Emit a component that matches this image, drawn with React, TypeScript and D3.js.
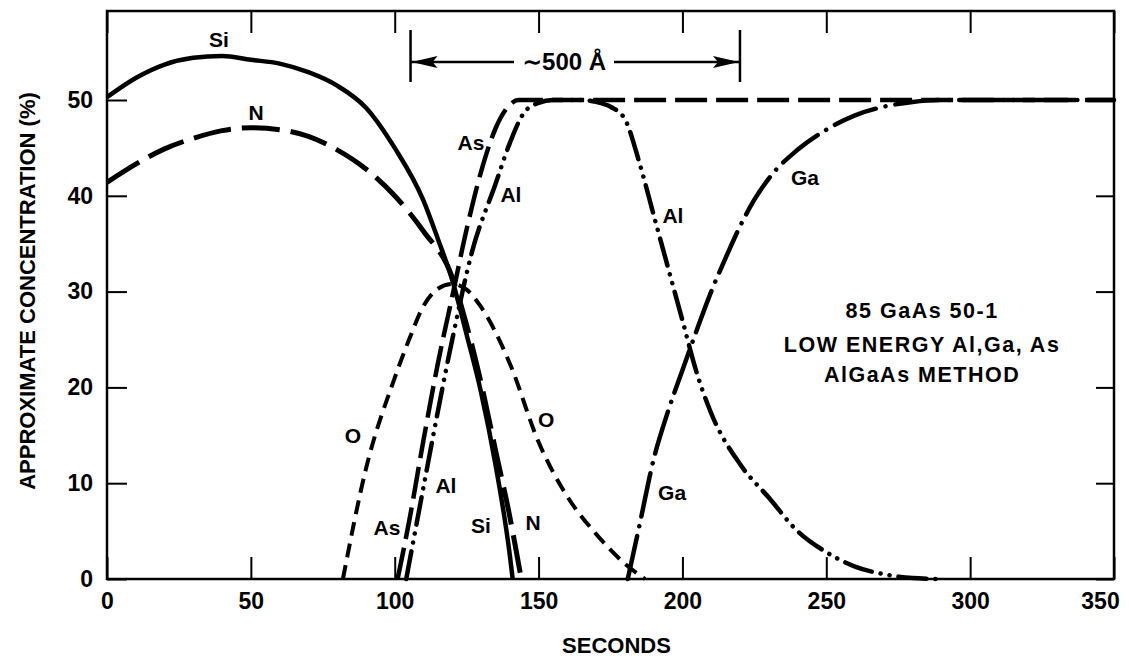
import React, { useEffect, useRef } from 'react';
import * as d3 from 'd3';

// axis ticks
const xTicks = [0, 50, 100, 150, 200, 250, 300, 350];
const yTicks = [0, 10, 20, 30, 40, 50];

// depth profile (seconds, %)
const siTime = [0, 10, 20, 30, 40, 50, 60, 70, 80, 90, 100, 110, 115, 120, 125, 130, 135, 140, 141];
const siConc = [50.3, 52.3, 53.7, 54.4, 54.6, 54.2, 53.8, 52.9, 51.5, 49.2, 45.0, 39.5, 35.5, 31.2, 25.5, 19.5, 12.0, 2.5, 0];

const nTime = [0, 10, 20, 30, 40, 50, 60, 70, 80, 90, 100, 110, 120, 125, 130, 135, 140, 144];
const nConc = [41.4, 43.3, 44.9, 46.0, 46.8, 47.1, 46.9, 46.2, 44.8, 42.8, 40.0, 36.3, 31.5, 26.5, 20.5, 13.5, 6.5, 0];

const oTime = [82, 90, 100, 105, 110, 115, 120, 125, 130, 140, 150, 160, 170, 180, 187];
const oConc = [0, 11.5, 21, 25, 28.5, 30.3, 30.8, 30.2, 28.4, 22.5, 14.3, 8.6, 4.7, 1.6, 0];

const asTime = [101, 105, 110, 115, 120, 125, 130, 135, 140, 143, 200, 250, 300, 350];
const asConc = [0, 6, 14.5, 22.5, 29.5, 36.5, 42.5, 47, 49.5, 50, 50, 50, 50, 50];

const alTime = [104, 110, 115, 120, 127, 135, 140, 145, 150, 155, 165, 170, 175, 180, 185, 190, 195, 200, 205, 210, 220, 230, 240, 250, 260, 270, 280, 290];
const alConc = [0, 9.6, 17.5, 25, 34.3, 41.2, 45.5, 48.7, 49.7, 50, 50, 49.8, 49.3, 48, 43.5, 38, 32.5, 27, 21.5, 17.3, 12, 8.5, 5, 2.8, 1.3, 0.5, 0.1, 0];

const gaTime = [181, 185, 190, 195, 200, 205, 210, 215, 220, 225, 230, 240, 250, 260, 270, 280, 290, 320, 350];
const gaConc = [0, 5.5, 12.5, 17.5, 21.8, 26, 30, 33.5, 36.8, 39.6, 41.8, 44.8, 46.9, 48.4, 49.3, 49.8, 50, 50, 50];

const curveLabels = [
  { text: 'Si', t: 38.9, c: 55.5 },
  { text: 'N', t: 51.8, c: 47.9 },
  { text: 'As', t: 126.5, c: 44.8 },
  { text: 'Al', t: 140.4, c: 39.4 },
  { text: 'Al', t: 196.7, c: 37.2 },
  { text: 'Ga', t: 242.6, c: 41.1 },
  { text: 'O', t: 85.5, c: 14.2 },
  { text: 'As', t: 97.3, c: 4.6 },
  { text: 'Al', t: 117.8, c: 9.0 },
  { text: 'Si', t: 130, c: 4.8 },
  { text: 'N', t: 148.1, c: 5.1 },
  { text: 'O', t: 152.6, c: 15.9 },
  { text: 'Ga', t: 196.4, c: 8.2 },
];

const noteLines = ['85 GaAs 50-1', 'LOW ENERGY Al,Ga, As', 'AlGaAs METHOD'];

const FONT = '"Liberation Sans", Arial, Helvetica, sans-serif';

function App() {
  const ref = useRef<SVGSVGElement | null>(null);

  useEffect(() => {
    const svg = d3.select(ref.current);
    svg.selectAll('*').remove();

    const left = 107, right = 1114, top = 11, bottom = 579;
    const x = d3.scaleLinear().domain([0, 350]).range([left, right]);
    const y = d3.scaleLinear().domain([0, (bottom - top) / 9.58]).range([bottom, top]);

    const zip = (ts: number[], cs: number[]) => ts.map((t, i) => [t, cs[i]] as [number, number]);
    const line = d3.line<[number, number]>()
      .x(d => x(d[0]))
      .y(d => y(d[1]))
      .curve(d3.curveMonotoneX);

    const series = [
      { pts: zip(siTime, siConc), w: 4.5, dash: null, cap: 'butt' },
      { pts: zip(nTime, nConc), w: 5, dash: '38 11', cap: 'butt' },
      { pts: zip(oTime, oConc), w: 4, dash: '14 8', cap: 'butt' },
      { pts: zip(asTime, asConc), w: 4.5, dash: '32 9', cap: 'butt' },
      { pts: zip(alTime, alConc), w: 4.5, dash: '28 9 0.1 9 0.1 9', cap: 'round' },
      { pts: zip(gaTime, gaConc), w: 4.5, dash: '44 10 0.1 10', cap: 'round' },
    ];

    series.forEach(s => {
      svg.append('path')
        .attr('d', line(s.pts))
        .attr('fill', 'none')
        .attr('stroke', '#000')
        .attr('stroke-width', s.w)
        .attr('stroke-linecap', s.cap)
        .attr('stroke-dasharray', s.dash);
    });

    // frame
    svg.append('rect')
      .attr('x', left).attr('y', top)
      .attr('width', right - left).attr('height', bottom - top)
      .attr('fill', 'none').attr('stroke', '#000').attr('stroke-width', 2.5);

    const styleAxis = (g: any) => {
      g.select('.domain').remove();
      g.selectAll('line').attr('stroke', '#000').attr('stroke-width', 2);
      g.selectAll('text')
        .attr('fill', '#000')
        .style('font-family', FONT)
        .style('font-weight', 'bold')
        .style('font-size', '23px');
    };

    const xAxis = svg.append('g')
      .attr('transform', `translate(0,${bottom})`)
      .call(d3.axisBottom(x).tickValues(xTicks).tickSize(-22).tickSizeOuter(0).tickPadding(14))
      .call(styleAxis);
    // last label sits inside the frame corner
    xAxis.selectAll('text').filter((d: any) => d === 350).attr('dx', -14);

    svg.append('g')
      .attr('transform', `translate(0,${top})`)
      .call(d3.axisTop(x).tickValues(xTicks).tickSize(-22).tickSizeOuter(0).tickFormat(() => ''))
      .call(styleAxis);
    svg.append('g')
      .attr('transform', `translate(${left},0)`)
      .call(d3.axisLeft(y).tickValues(yTicks).tickSize(-20).tickSizeOuter(0).tickPadding(14))
      .call(styleAxis);
    svg.append('g')
      .attr('transform', `translate(${right},0)`)
      .call(d3.axisRight(y).tickValues(yTicks).tickSize(-18).tickSizeOuter(0).tickFormat(() => ''))
      .call(styleAxis);

    // axis titles
    svg.append('text')
      .attr('x', (left + right) / 2 + 6).attr('y', 653)
      .attr('text-anchor', 'middle')
      .style('font-family', FONT).style('font-weight', 'bold').style('font-size', '22px')
      .text('SECONDS');
    svg.append('text')
      .attr('transform', `translate(35,291) rotate(-90)`)
      .attr('text-anchor', 'middle')
      .style('font-family', FONT).style('font-weight', 'bold').style('font-size', '22px')
      .text('APPROXIMATE CONCENTRATION (%)');

    // curve labels
    svg.append('g').selectAll('text')
      .data(curveLabels)
      .join('text')
      .attr('x', d => x(d.t))
      .attr('y', d => y(d.c))
      .attr('text-anchor', 'middle')
      .style('font-family', FONT).style('font-weight', 'bold').style('font-size', '21px')
      .text(d => d.text);

    // sample note
    const noteY = [27.2, 23.7, 20.6];
    svg.append('g').selectAll('text')
      .data(noteLines)
      .join('text')
      .attr('x', x(283.3))
      .attr('y', (d, i) => y(noteY[i]))
      .attr('text-anchor', 'middle')
      .style('font-family', FONT).style('font-weight', 'bold').style('font-size', '21.5px')
      .style('letter-spacing', '1.5px')
      .text(d => d);

    // ~500 Å span marker
    const x0 = x(105.5), x1 = x(220);
    const barTop = 30, barBot = 82, ay = 62;
    [x0, x1].forEach(bx => {
      svg.append('line')
        .attr('x1', bx).attr('x2', bx).attr('y1', barTop).attr('y2', barBot)
        .attr('stroke', '#000').attr('stroke-width', 2.5);
    });
    svg.append('line').attr('x1', x0).attr('x2', 514).attr('y1', ay).attr('y2', ay)
      .attr('stroke', '#000').attr('stroke-width', 2.5);
    svg.append('line').attr('x1', 614).attr('x2', x1).attr('y1', ay).attr('y2', ay)
      .attr('stroke', '#000').attr('stroke-width', 2.5);
    svg.append('path')
      .attr('d', `M${x0 + 1},${ay} L${x0 + 27},${ay - 6} L${x0 + 22},${ay} L${x0 + 27},${ay + 6} Z`)
      .attr('fill', '#000');
    svg.append('path')
      .attr('d', `M${x1 - 1},${ay} L${x1 - 27},${ay - 6} L${x1 - 22},${ay} L${x1 - 27},${ay + 6} Z`)
      .attr('fill', '#000');
    svg.append('text')
      .attr('x', 564).attr('y', 70)
      .attr('text-anchor', 'middle')
      .style('font-family', '"Liberation Sans", "DejaVu Sans", sans-serif')
      .style('font-weight', 'bold').style('font-size', '24px')
      .text('\u223C500 \u00C5');
  }, []);

  return (
    <svg
      ref={ref}
      width={1129}
      height={660}
      style={{ position: 'absolute', left: 0, top: 0, background: '#fff' }}
    />
  );
}

export default App;
